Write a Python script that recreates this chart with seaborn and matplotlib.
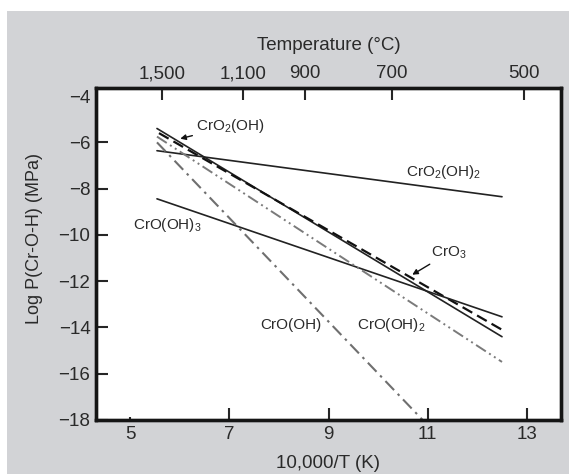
import numpy as np
import pandas as pd
import matplotlib
matplotlib.use('Agg')
import matplotlib.pyplot as plt
import seaborn as sns
from matplotlib.patches import Rectangle

# data (10,000/T in K vs log P in MPa)
species = ['CrO2(OH)2', 'CrO2(OH)', 'CrO3', 'CrO(OH)3', 'CrO(OH)2', 'CrO(OH)']
x_start = [5.54, 5.54, 5.58, 5.54, 5.54, 5.54]
x_end = [12.5, 12.5, 12.5, 12.5, 12.5, 10.9]
y_start = [-6.36, -5.40, -5.60, -8.44, -5.75, -6.0]
y_end = [-8.35, -14.40, -14.10, -13.54, -15.49, -18.0]

temp_ticks = [1500, 1100, 900, 700, 500]
x_ticks = [5, 7, 9, 11, 13]
y_ticks = [-4, -6, -8, -10, -12, -14, -16, -18]

sns.set_style('ticks')
plt.rcParams['font.family'] = ['Liberation Sans', 'DejaVu Sans']
plt.rcParams['mathtext.default'] = 'regular'

bg = '#d2d3d6'
txt = '#2a2a2a'
fig = plt.figure(figsize=(5.69, 4.74), dpi=100, facecolor='white')
fig.patches.append(Rectangle((7/569, 0), 1, 1 - 11/474, transform=fig.transFigure,
                             facecolor=bg, edgecolor='none', zorder=-10))
ax = fig.add_axes([96/569, 1 - 420/474, 465/569, 332/474])
ax.set_facecolor('white')

styles = {
    'CrO2(OH)2': dict(color='#222222', lw=1.2, ls='-'),
    'CrO2(OH)': dict(color='#222222', lw=1.2, ls='-'),
    'CrO3': dict(color='#111111', lw=1.6, ls=(0, (5, 2.5))),
    'CrO(OH)3': dict(color='#222222', lw=1.2, ls='-'),
    'CrO(OH)2': dict(color='#7a7a7a', lw=1.4, ls=(0, (6, 2, 1, 2, 1, 2))),
    'CrO(OH)': dict(color='#6f6f6f', lw=1.5, ls=(0, (6, 2.5, 1.2, 2.5))),
}

for i, sp in enumerate(species):
    df = pd.DataFrame({'x': [x_start[i], x_end[i]], 'y': [y_start[i], y_end[i]]})
    st = styles[sp]
    sns.lineplot(data=df, x='x', y='y', ax=ax, color=st['color'], linewidth=st['lw'],
                 linestyle=st['ls'])

ax.set_xlim(4.31, 13.69)
ax.set_ylim(-18, -3.65)
ax.set_xticks(x_ticks)
ax.set_yticks(y_ticks)
ax.set_yticklabels(['\u2212' + str(abs(v)) for v in y_ticks])
ax.tick_params(direction='in', length=8.5, width=1.5, labelsize=13.5, pad=4,
               labelcolor=txt)
ax.get_yticklines()[0].set_visible(False)
ax.xaxis.get_major_ticks()[0].tick1line.set_markersize(2)
for s in ax.spines.values():
    s.set_linewidth(2.4)
    s.set_color('#151515')

ax.set_xlabel('10,000/T (K)', fontsize=13.5, labelpad=9, color=txt)
ax.set_ylabel('Log P(Cr-O-H) (MPa)', fontsize=13, color=txt)
ax.yaxis.set_label_coords(-0.114, 0.548)

# top axis in degrees C
top = ax.twiny()
top.set_xlim(ax.get_xlim())
top.set_xticks([10000 / (t + 273.15) for t in temp_ticks])
top.set_xticklabels([f'{t:,}' for t in temp_ticks])
top.tick_params(direction='in', length=8.5, width=1.5, labelsize=13.5, pad=4,
                labelcolor=txt)
top.set_xlabel('Temperature (\u00b0C)', fontsize=13.5, labelpad=11, color=txt)
for s in top.spines.values():
    s.set_linewidth(2.4)
    s.set_color('#151515')

fs = 11
arrow = dict(arrowstyle='-|>', color='#111111', lw=1, mutation_scale=8, shrinkA=0, shrinkB=0)
ax.annotate('CrO$_2$(OH)', xy=(6.01, -5.84), xytext=(6.32, -5.3), fontsize=fs,
            va='center', ha='left', color=txt, arrowprops=arrow)
ax.text(10.56, -7.26, 'CrO$_2$(OH)$_2$', fontsize=fs, va='center', ha='left', color=txt)
ax.text(5.06, -9.56, 'CrO(OH)$_3$', fontsize=fs, va='center', ha='left', color=txt)
ax.annotate('CrO$_3$', xy=(10.69, -11.72), xytext=(11.07, -10.77), fontsize=fs,
            va='center', ha='left', color=txt, arrowprops=arrow)
ax.text(7.62, -13.89, 'CrO(OH)', fontsize=fs, va='center', ha='left', color=txt)
ax.text(9.58, -13.89, 'CrO(OH)$_2$', fontsize=fs, va='center', ha='left', color=txt)

fig.savefig('out.png', dpi=100, facecolor=fig.get_facecolor())
